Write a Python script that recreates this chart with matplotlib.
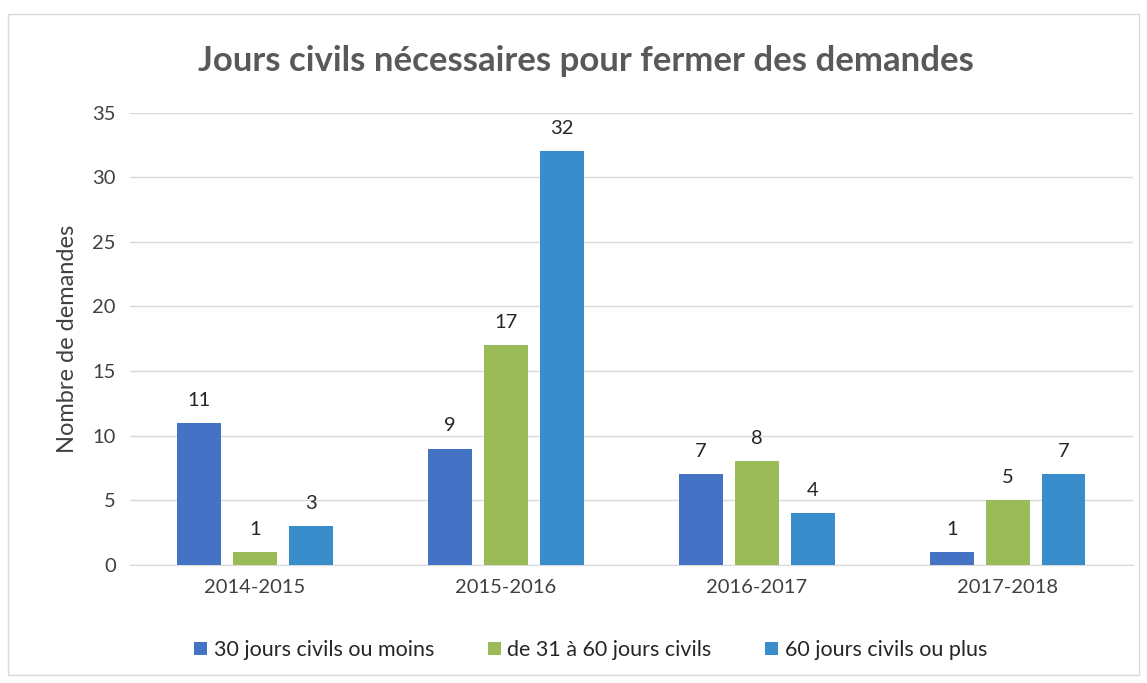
import matplotlib
matplotlib.use("Agg")
import matplotlib.pyplot as plt
import numpy as np
from matplotlib.patches import Rectangle

categories = ["2014-2015", "2015-2016", "2016-2017", "2017-2018"]
series_names = ["30 jours civils ou moins", "de 31 à 60 jours civils", "60 jours civils ou plus"]
s1 = [11, 9, 7, 1]
s2 = [1, 17, 8, 5]
s3 = [3, 32, 4, 7]
colors = ["#4472C4", "#9BBB59", "#3A8DCB"]

plt.rcParams['font.family'] = ['Lato', 'DejaVu Sans']

fig = plt.figure(figsize=(11.47, 6.83), dpi=100)
ax = fig.add_axes([0.113, 0.173, 0.875, 0.662])

x = np.arange(len(categories))
w = 0.175
step = 0.222
for i, (vals, name, c) in enumerate(zip([s1, s2, s3], series_names, colors)):
    pos = x + (i - 1) * step
    ax.bar(pos, vals, width=w, color=c, label=name, zorder=3)
    for p, v in zip(pos, vals):
        ax.text(p, v + 1.1, str(v), ha="center", va="bottom", fontsize=14.5, color="#262626")

ax.set_xlim(-0.5, 3.5)
ax.set_ylim(0, 35)
ax.set_yticks(range(0, 36, 5))
ax.yaxis.grid(True, color="#D9D9D9", linewidth=1, zorder=0)
ax.set_axisbelow(True)
for s in ["top", "right", "left"]:
    ax.spines[s].set_visible(False)
ax.spines["bottom"].set_color("#D9D9D9")
ax.tick_params(axis="both", length=0, labelsize=14.5, colors="#404040", pad=10)
ax.set_xticks(x)
ax.set_xticklabels(categories)
ax.set_ylabel("Nombre de demandes", fontsize=17, color="#404040", labelpad=10)

fig.text(0.511, 0.91, "Jours civils nécessaires pour fermer des demandes", ha="center",
         va="center", fontsize=25, fontweight="bold", color="#595959")

fig.legend(loc="center", bbox_to_anchor=(0.515, 0.048), ncol=3, frameon=False,
           fontsize=15.5, handlelength=0.6, handleheight=0.6, handletextpad=0.3,
           columnspacing=2.5, labelcolor="#262626")

fig.patches.append(Rectangle((0.007, 0.012), 0.986, 0.968, transform=fig.transFigure,
                             fill=False, edgecolor="#D9D9D9", linewidth=1))

fig.savefig("out.png", dpi=100, facecolor="white")
